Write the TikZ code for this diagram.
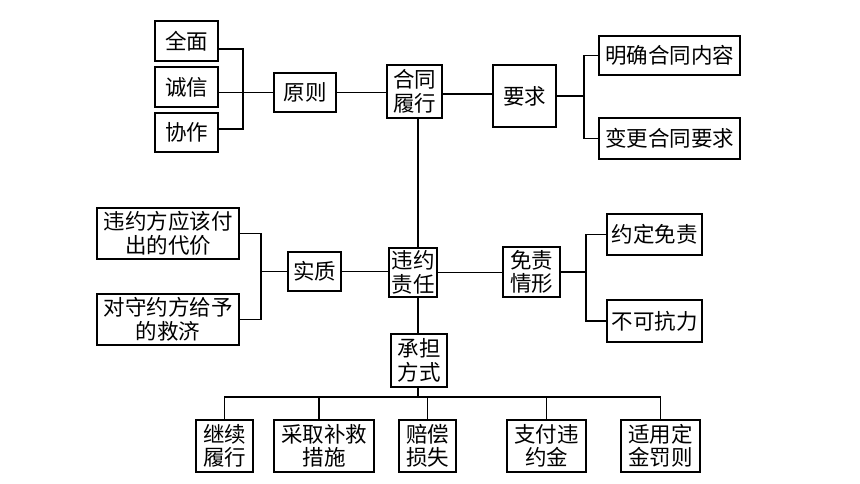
\documentclass[tikz,border=0pt]{standalone}
\usepackage{fontspec}
\newfontfamily\cjk{Noto Sans CJK SC}
\begin{document}
\begin{tikzpicture}[x=1pt,y=-1pt,
  box/.style={draw, line width=1.2pt, inner sep=0pt, align=center,
    font=\cjk\fontsize{21.5}{23.5}\selectfont},
  conn/.style={line width=1.2pt}]
\useasboundingbox (0,0) rectangle (860,484);
% top left
\node[box, minimum width=63pt, minimum height=40pt] (qm) at (186.5,41) {全面};
\node[box, minimum width=63pt, minimum height=40pt] (cx) at (186.5,87) {诚信};
\node[box, minimum width=63pt, minimum height=39pt] (xz) at (186.5,132.5) {协作};
\node[box, minimum width=62pt, minimum height=39pt] (yz) at (305,92.5) {原则};
\node[box, minimum width=55pt, minimum height=53pt] (ht) at (414.5,91.5) {合同\\履行};
\node[box, minimum width=63pt, minimum height=62pt] (yq) at (524.5,96) {要求};
\node[box, minimum width=141pt, minimum height=39pt] (mq) at (669.5,55.5) {明确合同内容};
\node[box, minimum width=141pt, minimum height=41pt] (bg) at (669.5,138.5) {变更合同要求};
% middle
\node[box, minimum width=142pt, minimum height=51pt] (dj) at (168,233.5) {违约方应该付\\出的代价};
\node[box, minimum width=142pt, minimum height=51pt] (jj) at (168,319.5) {对守约方给予\\的救济};
\node[box, minimum width=53pt, minimum height=39pt] (sz) at (314.5,271.5) {实质};
\node[box, minimum width=48pt, minimum height=49pt] (wy) at (413,272.5) {违约\\责任};
\node[box, minimum width=57pt, minimum height=50pt] (mz) at (531.5,272) {免责\\情形};
\node[box, minimum width=95pt, minimum height=41pt] (yd) at (654.5,234.5) {约定免责};
\node[box, minimum width=95pt, minimum height=42pt] (bk) at (654.5,321) {不可抗力};
% bottom
\node[box, minimum width=56pt, minimum height=53pt] (cd) at (419,360.5) {承担\\方式};
\node[box, minimum width=57pt, minimum height=52pt] (jx) at (224.5,446) {继续\\履行};
\node[box, minimum width=100pt, minimum height=52pt] (cq) at (324,446) {采取补救\\措施};
\node[box, minimum width=57pt, minimum height=52pt] (pc) at (427.5,446) {赔偿\\损失};
\node[box, minimum width=79pt, minimum height=52pt] (zf) at (546.5,446) {支付违\\约金};
\node[box, minimum width=79pt, minimum height=52pt] (sy) at (660.5,446) {适用定\\金罚则};
% coordinates
\coordinate (b1m) at (243,92.5);
\coordinate (b2m) at (584,96);
\coordinate (b3m) at (261,271.5);
\coordinate (b4m) at (586,272);
\coordinate (sp) at (418,0);
\coordinate (bus) at (0,397);
% connectors
\draw[conn] ([yshift=-8pt]qm.east) -| (b1m) |- ([yshift=3.5pt]xz.east);
\draw[conn] (cx.east |- b1m) -- (b1m) -- (yz.west);
\draw[conn] (yz.east) -- (ht.west |- yz.east);
\draw[conn] (ht.east |- 0,94) -- (yq.west |- 0,94);
\draw[conn] (yq.east |- b2m) -- (b2m);
\draw[conn] (mq.west) -| (b2m) |- (bg.west);
\draw[conn] (dj.east) -| (b3m) |- (jj.east);
\draw[conn] (b3m) -- (sz.west);
\draw[conn] (sz.east) -- (wy.west |- sz.east);
\draw[conn] (wy.east) -- (mz.west |- wy.east);
\draw[conn] (mz.east) -- (b4m);
\draw[conn] (yd.west) -| (b4m) |- (bk.west);
\draw[conn] (ht.south -| sp) -- (wy.north -| sp);
\draw[conn] (wy.south -| sp) -- (cd.north -| sp);
\draw[conn] (cd.south -| sp) -- (bus -| sp);
\draw[conn] (jx.north) -- (jx.north |- bus) -- (sy.north |- bus) -- (sy.north);
\draw[conn] ([xshift=-5pt]cq.north) -- ([xshift=-5pt]cq.north |- bus);
\draw[conn] (pc.north) -- (pc.north |- bus);
\draw[conn] (zf.north) -- (zf.north |- bus);
\end{tikzpicture}
\end{document}
